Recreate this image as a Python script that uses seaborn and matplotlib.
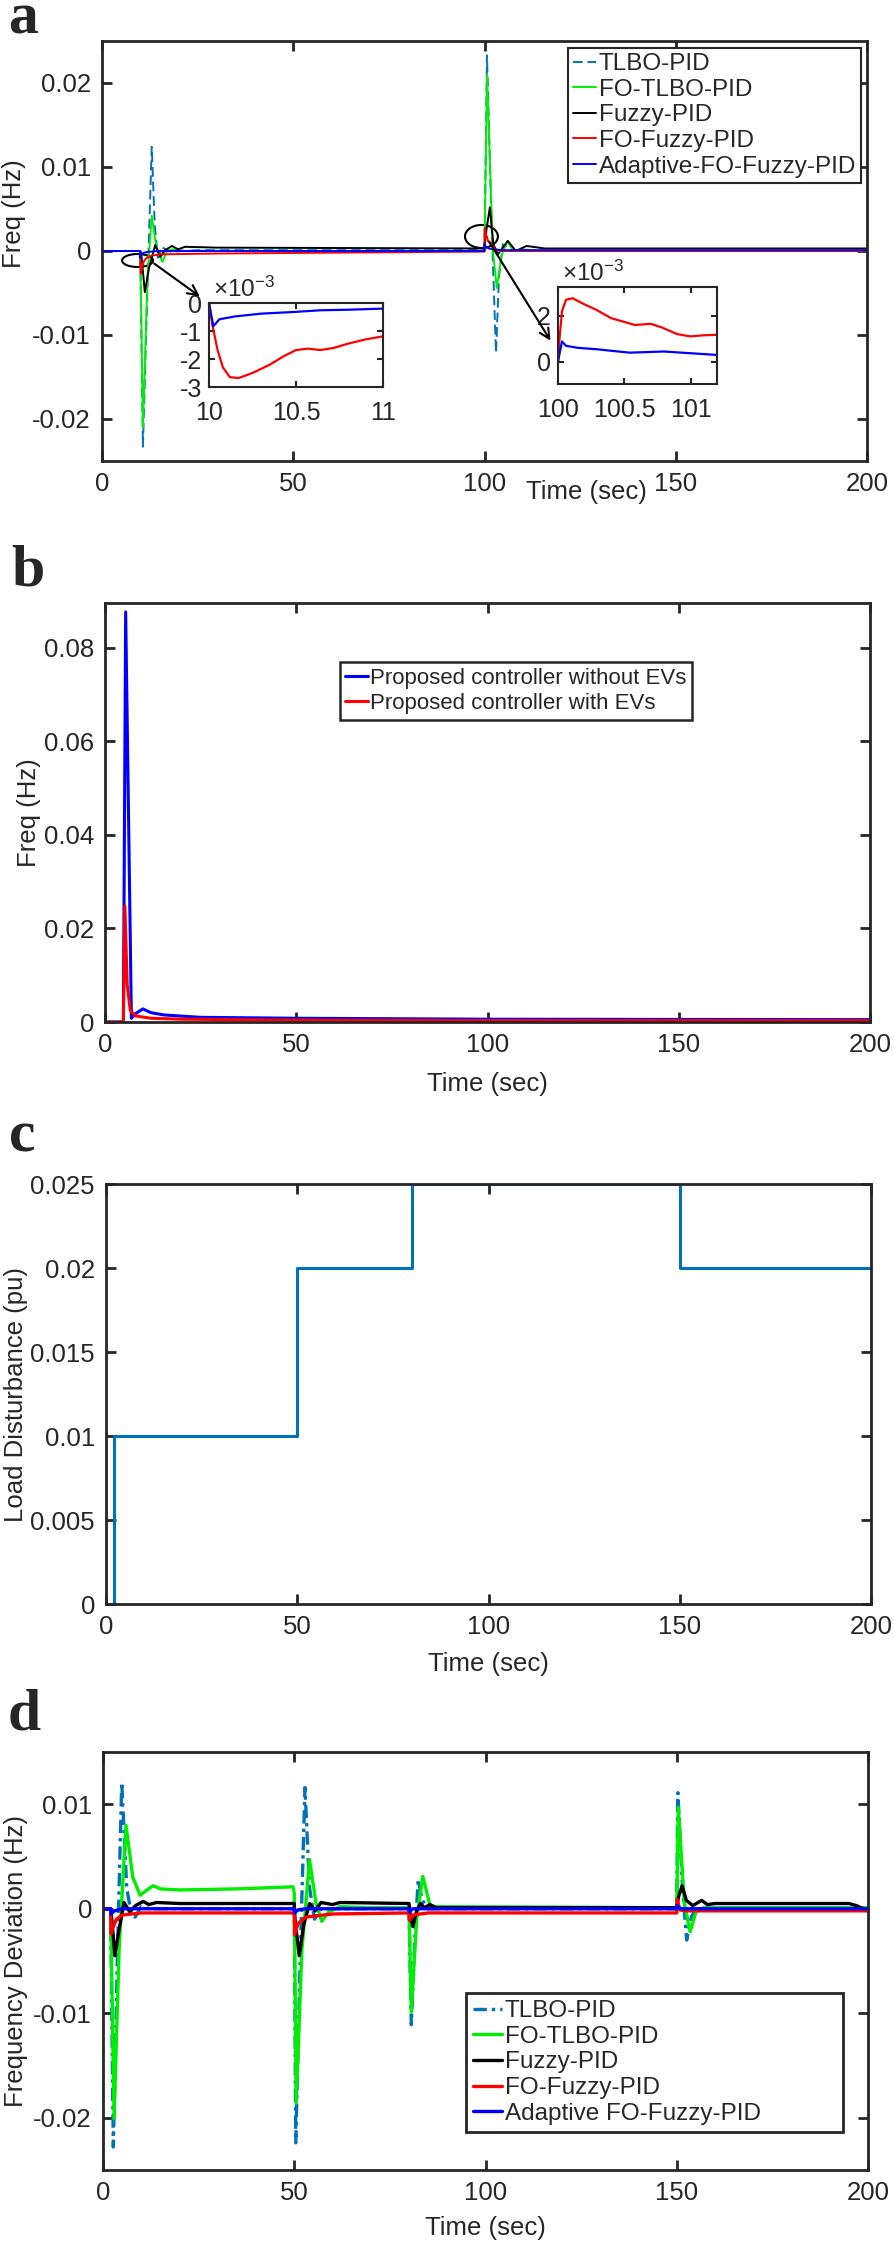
import matplotlib
matplotlib.use("Agg")
import matplotlib.pyplot as plt
import seaborn as sns
import pandas as pd
from matplotlib.patches import Ellipse, FancyArrowPatch
from matplotlib.ticker import FuncFormatter

# ---------------- data ----------------
# Panel a
a_tlbo_t = [0, 10, 10.7, 11.9, 13.0, 13.8, 14.6, 15.8, 18, 25, 100, 100.65, 101.8, 103.0, 103.8, 104.8, 106, 108, 200]
a_tlbo_v = [0, 0, -0.0233, -0.004, 0.0124, 0.003, -0.0008, 0.0004, -0.0001, 0.0001, 0.0001, 0.0233, 0.004, -0.0121, -0.003, 0.0008, 0.0004, 0, 0]

a_fotlbo_t = [0, 10, 10.7, 11.9, 13.0, 14.2, 15.8, 17, 18.5, 22, 100, 100.65, 102.2, 103.2, 104.5, 106, 107.5, 110, 115, 200]
a_fotlbo_v = [0, 0, -0.021, -0.003, 0.0042, 0.0005, -0.0013, 0, 0.0002, 0, 0, 0.021, 0, -0.0044, -0.0005, 0.0012, 0, 0.0002, 0, 0]

a_fuzzy_t = [0, 10, 10.3, 11.2, 12.3, 13.9, 15.2, 16.5, 18.3, 19.9, 21.7, 30, 99.9, 100.5, 101.4, 102.3, 103.5, 106.1, 108.2, 111, 115.8, 200]
a_fuzzy_v = [0, 0, -0.0005, -0.0049, -0.002, 0.0007, -0.0007, 0.0001, 0.0006, 0.0002, 0.0005, 0.0004, 0.0003, 0.0025, 0.0052, 0.0008, -0.0004, 0.0012, 0, 0.0006, 0.0003, 0.0003]

a_fofuzzy_t = [0, 10, 10.02, 10.05, 10.08, 10.12, 10.17, 10.25, 10.35, 10.43, 10.5, 10.57, 10.64, 10.72, 10.8, 10.9, 11, 11.5, 12.5, 15, 30,
               100, 100.01, 100.03, 100.06, 100.11, 100.2, 100.29, 100.4, 100.49, 100.58, 100.7, 100.78, 100.9, 101, 101.1, 101.2, 101.6, 102.5, 104, 200]
a_fofuzzy_v = [0, 0, -0.0008, -0.0017, -0.0023, -0.00265, -0.00268, -0.0025, -0.0022, -0.0019, -0.00168, -0.00163, -0.00168, -0.0016, -0.00145, -0.0013, -0.00119, -0.0009, -0.0006, -0.0004, -0.0003,
               -0.00007, 0.0009, 0.0022, 0.0027, 0.00277, 0.0025, 0.00226, 0.0019, 0.00175, 0.0016, 0.00165, 0.0015, 0.0012, 0.0011, 0.00115, 0.00117, 0.0009, 0.0003, 0, 0]

a_adapt_t = [0, 10, 10.025, 10.06, 10.15, 10.3, 10.49, 10.64, 10.8, 11, 12, 15, 100, 100.03, 100.06, 100.15, 100.29, 100.54, 100.8, 101.2, 102, 105, 200]
a_adapt_v = [0, 0, -0.00083, -0.00058, -0.00048, -0.00038, -0.00032, -0.00026, -0.00024, -0.0002, -0.0001, 0, 0, 0.00088, 0.00069, 0.0006, 0.00054, 0.00039, 0.00044, 0.00029, 0.0002, 0.0001, 0.0001]

a_labels = ["TLBO-PID", "FO-TLBO-PID", "Fuzzy-PID", "FO-Fuzzy-PID", "Adaptive-FO-Fuzzy-PID"]

# Panel b
b_noev_t = [0, 4.8, 5.4, 6.9, 8, 9.9, 12, 15.5, 25, 50, 100, 200]
b_noev_v = [0, 0, 0.0877, 0.0008, 0.0018, 0.0028, 0.002, 0.0015, 0.001, 0.0008, 0.0006, 0.0005]
b_ev_t = [0, 4.8, 5.2, 5.8, 6.6, 8, 12, 20, 50, 100, 200]
b_ev_v = [0, 0, 0.0248, 0.008, 0.0025, 0.0013, 0.0008, 0.0006, 0.0004, 0.0003, 0.0003]
b_labels = ["Proposed controller without EVs", "Proposed controller with EVs"]

# Panel c (step load)
c_t = [0, 2, 50, 80, 150, 200]
c_v = [0, 0.01, 0.02, 0.025, 0.02, 0.02]

# Panel d
d_tlbo_t = [0, 2, 2.7, 3.8, 4.9, 6.2, 7.4, 8.4, 10, 12, 50, 50.4, 51.6, 52.8, 54, 55.3, 57, 80, 80.6, 81.5, 82.4, 83.5, 85, 150, 150.3, 151.5, 152.6, 153.8, 155, 200]
d_tlbo_v = [0, 0, -0.0228, -0.004, 0.0121, 0.002, -0.0005, -0.0008, 0.0002, 0, 0, -0.0224, -0.004, 0.0116, 0.002, -0.001, 0, 0, -0.0111, -0.003, 0.0028, 0.0008, 0, 0, 0.0111, 0.002, -0.003, -0.0008, 0, 0]

d_fotlbo_t = [0, 2, 2.9, 4.2, 6.0, 7.8, 9.7, 11.5, 13.1, 15, 20, 35, 49.7, 50, 50.5, 52, 54, 55.7, 57.2, 59, 62, 70, 80, 80.6, 82, 83.6, 85.5, 87, 150, 150.4, 152, 153.5, 155, 157, 200]
d_fotlbo_v = [0, 0, -0.0201, -0.004, 0.008, 0.003, 0.0013, 0.0018, 0.0022, 0.0019, 0.0018, 0.0019, 0.0021, 0.0015, -0.0186, -0.004, 0.0047, 0.0005, -0.0012, -0.0003, 0.0002, 0.0001, 0.0001, -0.0099, -0.001, 0.0031, 0.0003, 0.0002, 0.0001, 0.0097, 0.0005, -0.0022, -0.0003, 0.0001, 0.0001]

d_fuzzy_t = [0, 2, 2.3, 3.1, 4.2, 5.5, 7, 8.5, 10.5, 12, 14, 20, 50, 50.2, 51.3, 52.5, 54, 55.5, 57, 60, 62, 80, 80.3, 81, 82, 83, 84, 85.5, 87, 150, 150.5, 151.4, 152.5, 154.2, 156.5, 158, 160, 195, 197, 200]
d_fuzzy_v = [0, 0, -0.001, -0.0045, -0.002, 0.0006, -0.0003, 0.0003, 0.0007, 0.0004, 0.0006, 0.0005, 0.0005, -0.001, -0.0045, -0.0015, 0.0005, -0.0002, 0.0006, 0.0004, 0.0006, 0.0005, -0.0005, -0.0017, -0.0002, 0.0005, 0.0001, 0.0004, 0.0001, 0.0001, 0.0012, 0.0022, 0.0008, 0.0003, 0.0008, 0.0004, 0.0005, 0.0005, 0.0003, -0.0002]

d_fofuzzy_t = [0, 2, 2.1, 2.6, 3.5, 5, 10, 50, 50.1, 51, 53, 60, 80, 80.1, 81, 85, 150, 150.1, 150.8, 152, 200]
d_fofuzzy_v = [0, 0, -0.0024, -0.0018, -0.001, -0.0006, -0.0004, -0.0004, -0.0025, -0.0014, -0.0008, -0.0005, -0.0004, -0.0011, -0.0006, -0.0004, -0.0004, 0.0009, -0.0001, -0.0002, -0.0002]

d_adapt_t = [0, 2, 2.1, 3, 5, 50, 50.1, 51, 53, 80, 80.1, 81, 150, 150.1, 151, 200]
d_adapt_v = [0, 0, -0.0005, -0.0002, 0, 0, -0.0004, -0.0001, 0, 0, -0.0003, 0, 0, 0.0003, 0, 0]

d_labels = ["TLBO-PID", "FO-TLBO-PID", "Fuzzy-PID", "FO-Fuzzy-PID", "Adaptive FO-Fuzzy-PID"]

x_ticks = [0, 50, 100, 150, 200]

# ---------------- style ----------------
sns.set_style("ticks")
plt.rcParams["font.family"] = ["Liberation Sans", "DejaVu Sans"]
plt.rcParams["axes.unicode_minus"] = False
plt.rcParams["mathtext.fontset"] = "custom"
plt.rcParams["mathtext.rm"] = "Liberation Sans"
plt.rcParams["mathtext.it"] = "Liberation Sans:italic"

C_TLBO = "#0072BD"
C_FOTLBO = "#00EE00"
C_FUZZY = "#000000"
C_FOFUZZY = "#FF0000"
C_ADAPT = "#0000FF"
SPINE = "#262626"

W, H = 894, 2247
fig = plt.figure(figsize=(W / 100, H / 100), dpi=100)
fig.patch.set_facecolor("white")


def rect(l, t, r, b):
    return [l / W, 1 - b / H, (r - l) / W, (b - t) / H]


def fxy(px, py):
    return (px / W, 1 - py / H)


def fmt(v, p):
    if abs(v) < 1e-12:
        return "0"
    return f"{v:g}"


def style_axes(ax, fs=18.5, lw=2.0, length=7):
    for s in ax.spines.values():
        s.set_linewidth(lw)
        s.set_color(SPINE)
        s.set_visible(True)
    ax.tick_params(direction="in", top=True, right=True, length=length, width=lw,
                   color=SPINE, labelsize=fs, labelcolor="#262626", pad=8)
    ax.set_facecolor("white")


def line(ax, t, v, color, lw, label=None, ls="-"):
    df = pd.DataFrame({"t": t, "v": v})
    sns.lineplot(data=df, x="t", y="v", ax=ax, color=color, linewidth=lw,
                 label=label, linestyle=ls, estimator=None, sort=False)


TFS = 18.5

# ---------------- panel a ----------------
axa = fig.add_axes(rect(102, 41, 867, 461))
lw_a = 1.4
line(axa, a_tlbo_t, a_tlbo_v, C_TLBO, lw_a, a_labels[0], ls=(0, (5, 2.5)))
line(axa, a_fotlbo_t, a_fotlbo_v, C_FOTLBO, lw_a, a_labels[1])
line(axa, a_fuzzy_t, a_fuzzy_v, C_FUZZY, lw_a, a_labels[2])
line(axa, a_fofuzzy_t, a_fofuzzy_v, C_FOFUZZY, lw_a, a_labels[3])
line(axa, a_adapt_t, a_adapt_v, C_ADAPT, lw_a, a_labels[4])
axa.set_xlim(0, 200)
axa.set_ylim(-0.025, 0.025)
axa.set_xticks(x_ticks)
axa.set_yticks([-0.02, -0.01, 0, 0.01, 0.02])
axa.yaxis.set_major_formatter(FuncFormatter(fmt))
style_axes(axa)
axa.set_xlabel("Time (sec)", fontsize=TFS, color="#262626")
axa.xaxis.set_label_coords(0.633, -0.045)
axa.set_ylabel("Freq (Hz)", fontsize=TFS, color="#262626", va="center")
axa.yaxis.set_label_coords(-0.115, 0.59)
lega = axa.legend(loc="upper right", bbox_to_anchor=(0.992, 0.983), borderaxespad=0,
                  fontsize=17.5, frameon=True, fancybox=False, framealpha=1,
                  edgecolor=SPINE, handlelength=0.95, handletextpad=0.1,
                  labelspacing=0.15, borderpad=0.2)
lega.get_frame().set_linewidth(1.5)

axa.add_patch(Ellipse((9.3, -0.00113), 8.1, 0.00155, fill=False, ec="k", lw=1.5))
axa.add_patch(Ellipse((99.2, 0.00173), 8.6, 0.00274, fill=False, ec="k", lw=1.5))
fig.add_artist(FancyArrowPatch(fxy(152, 262), fxy(202, 298), transform=fig.transFigure,
                               arrowstyle="->", mutation_scale=18, lw=1.5, color="k"))
fig.add_artist(FancyArrowPatch(fxy(488, 240), fxy(552, 343), transform=fig.transFigure,
                               arrowstyle="->", mutation_scale=18, lw=1.5, color="k"))

# inset 1
ins1 = fig.add_axes(rect(209, 303, 383, 387))
line(ins1, a_fofuzzy_t, a_fofuzzy_v, C_FOFUZZY, 1.6)
line(ins1, a_adapt_t, a_adapt_v, C_ADAPT, 1.6)
ins1.set_xlim(10, 11)
ins1.set_ylim(-0.003, 0)
ins1.set_xticks([10, 10.5, 11])
ins1.set_yticks([-0.003, -0.002, -0.001, 0])
ins1.yaxis.set_major_formatter(FuncFormatter(lambda v, p: fmt(v * 1e3, p)))
ins1.xaxis.set_major_formatter(FuncFormatter(fmt))
style_axes(ins1, fs=18, lw=1.5, length=4)
ins1.tick_params(axis="x", pad=10)
ins1.tick_params(axis="y", pad=5)
ins1.set_xlabel("")
ins1.set_ylabel("")
fig.text(*fxy(213, 297), r"$\times10^{-3}$", fontsize=17.5, color="#262626", va="baseline")

# inset 2
ins2 = fig.add_axes(rect(558, 287, 717, 384))
line(ins2, a_fofuzzy_t, a_fofuzzy_v, C_FOFUZZY, 1.6)
line(ins2, a_adapt_t, a_adapt_v, C_ADAPT, 1.6)
ins2.set_xlim(100, 101.2)
ins2.set_ylim(-0.00098, 0.00326)
ins2.set_xticks([100, 100.5, 101])
ins2.set_yticks([0, 0.002])
ins2.yaxis.set_major_formatter(FuncFormatter(lambda v, p: fmt(v * 1e3, p)))
ins2.xaxis.set_major_formatter(FuncFormatter(fmt))
style_axes(ins2, fs=18, lw=1.5, length=4)
ins2.tick_params(axis="x", pad=10)
ins2.tick_params(axis="y", pad=5)
ins2.set_xlabel("")
ins2.set_ylabel("")
fig.text(*fxy(562, 281), r"$\times10^{-3}$", fontsize=17.5, color="#262626", va="baseline")

# ---------------- panel b ----------------
axb = fig.add_axes(rect(105, 603, 870, 1022))
line(axb, b_noev_t, b_noev_v, C_ADAPT, 2.2, b_labels[0])
line(axb, b_ev_t, b_ev_v, C_FOFUZZY, 2.2, b_labels[1])
axb.set_xlim(0, 200)
axb.set_ylim(0, 0.0896)
axb.set_xticks(x_ticks)
axb.set_yticks([0, 0.02, 0.04, 0.06, 0.08])
axb.yaxis.set_major_formatter(FuncFormatter(fmt))
style_axes(axb)
axb.set_xlabel("Time (sec)", fontsize=TFS, color="#262626")
axb.xaxis.set_label_coords(0.5, -0.119)
axb.set_ylabel("Freq (Hz)", fontsize=TFS, color="#262626", va="center")
axb.yaxis.set_label_coords(-0.099, 0.5)
legb = axb.legend(loc="upper left", bbox_to_anchor=(0.307, 0.859), borderaxespad=0,
                  fontsize=16, frameon=True, fancybox=False, framealpha=1,
                  edgecolor=SPINE, handlelength=1.0, handletextpad=0.1,
                  labelspacing=0.2, borderpad=0.25)
legb.get_frame().set_linewidth(1.8)

# ---------------- panel c ----------------
axc = fig.add_axes(rect(106, 1184, 871, 1604))
dfc = pd.DataFrame({"t": c_t, "v": c_v})
sns.lineplot(data=dfc, x="t", y="v", ax=axc, color=C_TLBO, linewidth=2.2,
             drawstyle="steps-post", estimator=None, sort=False)
axc.set_xlim(0, 200)
axc.set_ylim(0, 0.025)
axc.set_xticks(x_ticks)
axc.set_yticks([0, 0.005, 0.01, 0.015, 0.02, 0.025])
axc.yaxis.set_major_formatter(FuncFormatter(fmt))
style_axes(axc)
axc.set_xlabel("Time (sec)", fontsize=TFS, color="#262626")
axc.xaxis.set_label_coords(0.5, -0.114)
axc.set_ylabel("Load Disturbance (pu)", fontsize=TFS, color="#262626", va="center")
axc.yaxis.set_label_coords(-0.118, 0.5)

# ---------------- panel d ----------------
axd = fig.add_axes(rect(103, 1752, 868, 2170))
lw_d = 2.4
line(axd, d_tlbo_t, d_tlbo_v, C_TLBO, lw_d, d_labels[0], ls=(0, (4, 1.5, 1, 1.5)))
line(axd, d_fotlbo_t, d_fotlbo_v, C_FOTLBO, lw_d, d_labels[1])
line(axd, d_fuzzy_t, d_fuzzy_v, C_FUZZY, lw_d, d_labels[2])
line(axd, d_fofuzzy_t, d_fofuzzy_v, C_FOFUZZY, lw_d, d_labels[3])
line(axd, d_adapt_t, d_adapt_v, C_ADAPT, lw_d, d_labels[4])
axd.set_xlim(0, 200)
axd.set_ylim(-0.025, 0.015)
axd.set_xticks(x_ticks)
axd.set_yticks([-0.02, -0.01, 0, 0.01])
axd.yaxis.set_major_formatter(FuncFormatter(fmt))
style_axes(axd)
axd.set_xlabel("Time (sec)", fontsize=TFS, color="#262626")
axd.xaxis.set_label_coords(0.5, -0.11)
axd.set_ylabel("Frequency Deviation (Hz)", fontsize=TFS, color="#262626", va="center")
axd.yaxis.set_label_coords(-0.114, 0.5)
legd = axd.legend(loc="lower left", mode="expand",
                  bbox_to_anchor=((466 - 103) / 765, (2170 - 2132) / 418, (843 - 466) / 765, 0.38),
                  borderaxespad=0, fontsize=17.5, frameon=True, fancybox=False, framealpha=1,
                  edgecolor=SPINE, handlelength=1.2, handletextpad=0.1,
                  labelspacing=0.15, borderpad=0.3)
legd.get_frame().set_linewidth(2.0)

# ---------------- panel letters ----------------
for letter, px, py in [("a", 8, 33), ("b", 11, 586), ("c", 9, 1151), ("d", 8, 1730)]:
    fig.text(*fxy(px, py), letter, fontsize=43, fontweight="bold",
             family=["Liberation Serif", "DejaVu Serif"], va="baseline", ha="left")

fig.savefig("out.png", dpi=100, facecolor="white")
